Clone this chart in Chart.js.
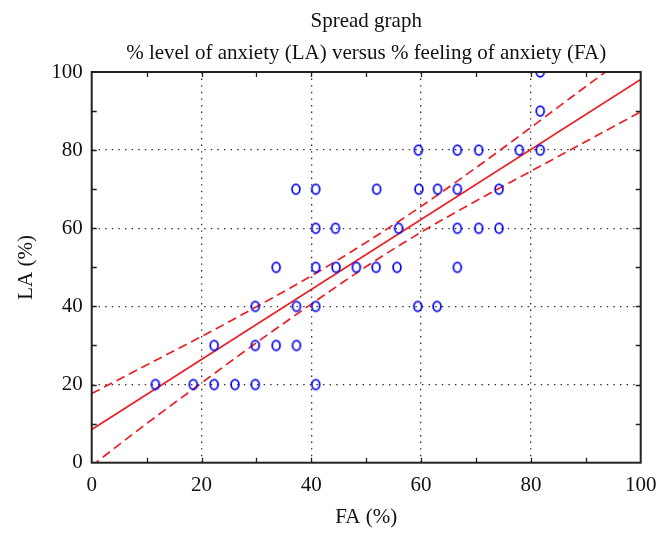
<!DOCTYPE html>
<html>
<head>
    <title>Spread graph</title>
    <script src="https://cdn.jsdelivr.net/npm/chart.js"></script>
    <style>
        html, body { margin: 0; padding: 0; background: #fff; }
        #wrap { width: 668px; height: 541px; }
    </style>
</head>
<body>
    <div id="wrap"><canvas id="myChart" width="668" height="541"></canvas></div>

    <script>
        // FA (%) and LA (%) of each subject
        var faValues = [11.6, 18.5, 22.3, 26.1, 29.8, 40.8,
                        22.3, 29.8, 33.6, 37.3,
                        29.8, 37.3, 40.8, 59.4, 62.9,
                        33.6, 40.8, 44.5, 48.2, 51.8, 55.6, 66.6,
                        40.8, 44.4, 55.9, 66.6, 70.5, 74.2,
                        37.2, 40.8, 51.9, 59.6, 63.0, 66.6, 74.2,
                        59.5, 66.6, 70.5, 77.9, 81.7,
                        81.7, 81.7];
        var laValues = [20, 20, 20, 20, 20, 20,
                        30, 30, 30, 30,
                        40, 40, 40, 40, 40,
                        50, 50, 50, 50, 50, 50, 50,
                        60, 60, 60, 60, 60, 60,
                        70, 70, 70, 70, 70, 70, 70,
                        80, 80, 80, 80, 80,
                        90, 100];

        // fitted line end points
        var fitX = [0, 100];
        var fitY = [8.5, 98.1];

        // confidence band, read every 10 % of FA
        var bandX = [0, 10, 20, 30, 40, 50, 60, 70, 80, 90, 100];
        var bandUpper = [17.7, 25.0, 32.3, 39.9, 47.8, 56.4, 65.6, 75.5, 85.8, 96.3, 106.5];
        var bandLower = [-0.8, 10.0, 20.4, 30.7, 40.6, 50.2, 59.0, 67.0, 74.6, 82.2, 89.8];

        var titleLines = ['Spread graph', '% level of anxiety (LA) versus % feeling of anxiety (FA)'];

        var serif = 'Liberation Serif';
        var blue = 'rgb(10, 10, 235)';
        var red = 'rgb(236, 30, 36)';
        var ink = '#222';

        function toPoints(xs, ys) {
            var pts = [];
            for (var i = 0; i < xs.length; i++) pts.push({ x: xs[i], y: ys[i] });
            return pts;
        }

        // little "o" marker, a bit taller than wide
        var marker = document.createElement('canvas');
        marker.width = 14;
        marker.height = 16;
        var mctx = marker.getContext('2d');
        mctx.strokeStyle = blue;
        mctx.lineWidth = 1.8;
        mctx.beginPath();
        mctx.ellipse(7, 8, 3.9, 4.8, 0, 0, Math.PI * 2);
        mctx.stroke();

        // frame with inward ticks, and title centred on the plot area
        var framePlugin = {
            id: 'frame',
            afterLayout: function (chart) {
                var a = chart.chartArea;
                if (chart.titleBlock) {
                    chart.titleBlock.left = a.left;
                    chart.titleBlock.right = a.right;
                    chart.titleBlock.width = a.right - a.left;
                }
            },
            afterDraw: function (chart) {
                var c = chart.ctx, a = chart.chartArea;
                var xs = chart.scales.x, ys = chart.scales.y;
                var len = 5;
                c.save();
                c.strokeStyle = ink;
                c.lineWidth = 1.3;
                c.beginPath();
                xs.ticks.forEach(function (t) {
                    if (t.value <= 0 || t.value >= 100) return;
                    var px = Math.round(xs.getPixelForValue(t.value)) + 0.5;
                    c.moveTo(px, a.bottom); c.lineTo(px, a.bottom - len);
                    c.moveTo(px, a.top); c.lineTo(px, a.top + len);
                });
                ys.ticks.forEach(function (t) {
                    if (t.value <= 0 || t.value >= 100) return;
                    var py = Math.round(ys.getPixelForValue(t.value)) + 0.5;
                    c.moveTo(a.left, py); c.lineTo(a.left + len, py);
                    c.moveTo(a.right, py); c.lineTo(a.right - len, py);
                });
                c.stroke();
                c.lineWidth = 2;
                c.strokeRect(a.left, a.top, a.right - a.left, a.bottom - a.top);
                c.restore();
            }
        };

        function gridColor(ctx) {
            var v = ctx.tick ? ctx.tick.value : 0;
            if (v > 0 && v < 100 && v % 20 === 0) return '#2a2a2a';
            return 'rgba(0,0,0,0)';
        }

        function tickLabel(value) {
            return value % 20 === 0 ? value : '';
        }

        var ctx = document.getElementById('myChart').getContext('2d');
        var myChart = new Chart(ctx, {
            data: {
                datasets: [
                    {
                        type: 'scatter',
                        label: 'LA vs FA',
                        data: toPoints(faValues, laValues),
                        pointStyle: marker,
                        pointRadius: 5,
                        order: 1
                    },
                    {
                        type: 'line',
                        label: 'Fit',
                        data: toPoints(fitX, fitY),
                        borderColor: red,
                        borderWidth: 1.7,
                        pointRadius: 0,
                        fill: false,
                        order: 2
                    },
                    {
                        type: 'line',
                        label: 'Upper',
                        data: toPoints(bandX, bandUpper),
                        borderColor: red,
                        borderWidth: 1.7,
                        borderDash: [9, 5],
                        pointRadius: 0,
                        cubicInterpolationMode: 'monotone',
                        fill: false,
                        order: 2
                    },
                    {
                        type: 'line',
                        label: 'Lower',
                        data: toPoints(bandX, bandLower),
                        borderColor: red,
                        borderWidth: 1.7,
                        borderDash: [9, 5],
                        pointRadius: 0,
                        cubicInterpolationMode: 'monotone',
                        fill: false,
                        order: 2
                    }
                ]
            },
            options: {
                responsive: false,
                maintainAspectRatio: false,
                animation: false,
                events: [],
                layout: { padding: { top: 0, right: 27.3, bottom: 0, left: 0 } },
                plugins: {
                    legend: { display: false },
                    tooltip: { enabled: false },
                    title: {
                        display: true,
                        text: titleLines,
                        color: '#111',
                        font: { family: serif, size: 21, weight: 'normal', lineHeight: 1.5 },
                        padding: { top: 6, bottom: 3 }
                    }
                },
                scales: {
                    x: {
                        type: 'linear',
                        min: 0,
                        max: 100,
                        afterFit: function (s) { s.height = 78.3; },
                        ticks: {
                            stepSize: 10,
                            autoSkip: false,
                            maxRotation: 0,
                            padding: 10,
                            color: '#111',
                            font: { family: serif, size: 21 },
                            callback: tickLabel
                        },
                        grid: { drawTicks: false, color: gridColor, lineWidth: 1.3 },
                        border: { display: false, dash: [1.4, 5.2] },
                        title: {
                            display: true,
                            text: 'FA (%)',
                            color: '#111',
                            font: { family: serif, size: 21 },
                            padding: { top: 0, bottom: 11 }
                        }
                    },
                    y: {
                        type: 'linear',
                        min: 0,
                        max: 100,
                        afterFit: function (s) { s.width = 91.7; },
                        ticks: {
                            stepSize: 10,
                            autoSkip: false,
                            padding: 9,
                            color: '#111',
                            font: { family: serif, size: 21 },
                            callback: tickLabel
                        },
                        grid: { drawTicks: false, color: gridColor, lineWidth: 1.3 },
                        border: { display: false, dash: [1.4, 5.2] },
                        title: {
                            display: true,
                            text: 'LA (%)',
                            color: '#111',
                            font: { family: serif, size: 21 },
                            padding: { top: 14, bottom: 0 }
                        }
                    }
                }
            },
            plugins: [framePlugin]
        });
    </script>
</body>
</html>
